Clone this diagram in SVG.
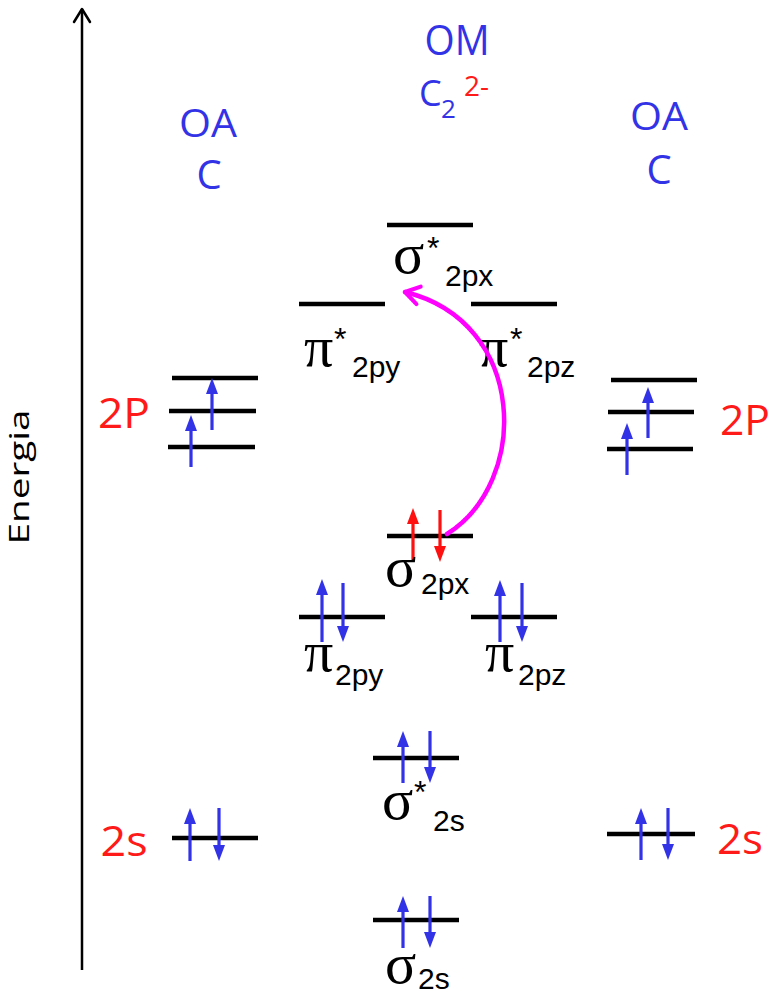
<svg xmlns="http://www.w3.org/2000/svg" width="774" height="998" viewBox="0 0 774 998">
<style>
.lvl{stroke:#000;stroke-width:4.5;fill:none}
.ab{stroke:#3232e6;stroke-width:3.2;fill:none}
.ar{stroke:#ff1010;stroke-width:3.2;fill:none}
.hb{font-family:"Open Sans",sans-serif;fill:#3232e6}
.hr{font-family:"Open Sans",sans-serif;fill:#ff1a1a}
.gr{font-family:"Liberation Serif",serif;font-size:58px;fill:#000}
.sb{font-family:"Liberation Sans",sans-serif;font-size:30px;fill:#000}
.st{font-family:"Liberation Sans",sans-serif;font-size:32px;fill:#000}
</style>
<defs>
<marker id="hb" viewBox="0 0 16 12" refX="4" refY="6" markerWidth="16" markerHeight="12" markerUnits="userSpaceOnUse" orient="auto"><path d="M0,0 L16,6 L0,12 z" fill="#3232e6"/></marker>
<marker id="hr" viewBox="0 0 16 12" refX="4" refY="6" markerWidth="16" markerHeight="12" markerUnits="userSpaceOnUse" orient="auto"><path d="M0,0 L16,6 L0,12 z" fill="#ff1010"/></marker>
<marker id="hm" viewBox="0 0 24 24" refX="20" refY="12" markerWidth="24" markerHeight="24" markerUnits="userSpaceOnUse" orient="auto"><path d="M6,3 L20,12 L6,21" fill="none" stroke="#ff00ff" stroke-width="4" stroke-linecap="round" stroke-linejoin="round"/></marker>
</defs>
<rect width="774" height="998" fill="#fff"/>

<g id="axis">
<line x1="82" y1="970" x2="82" y2="9" stroke="#000" stroke-width="2.5"/>
<path d="M74,22 L82,9 L90,22" fill="none" stroke="#000" stroke-width="2.5" stroke-linecap="round" stroke-linejoin="round"/>
<text transform="translate(29,477) rotate(-90)" text-anchor="middle" font-family="Open Sans, sans-serif" font-size="27" fill="#000" textLength="135" lengthAdjust="spacingAndGlyphs">Energia</text>
</g>

<g id="titles">
<text class="hb" x="457" y="55" font-size="42" text-anchor="middle" textLength="65" lengthAdjust="spacingAndGlyphs">OM</text>
<text class="hb" x="419" y="106" font-size="36">C</text>
<text class="hb" x="441" y="118" font-size="26">2</text>
<text class="hr" x="464" y="96" font-size="28">2-</text>
<text class="hb" x="208" y="137" font-size="38" text-anchor="middle" textLength="58" lengthAdjust="spacingAndGlyphs">OA</text>
<text class="hb" x="209" y="189" font-size="40" text-anchor="middle">C</text>
<text class="hb" x="659" y="130" font-size="38" text-anchor="middle" textLength="58" lengthAdjust="spacingAndGlyphs">OA</text>
<text class="hb" x="659" y="184" font-size="40" text-anchor="middle">C</text>
</g>

<g id="aoL2p">
<line class="lvl" x1="172" y1="378" x2="258" y2="378"/>
<line class="lvl" x1="169" y1="411" x2="256" y2="411"/>
<line class="lvl" x1="168" y1="447" x2="255" y2="447"/>
<line class="ab" x1="212" y1="430" x2="212" y2="390" marker-end="url(#hb)"/>
<line class="ab" x1="191" y1="467" x2="191" y2="427" marker-end="url(#hb)"/>
<text class="hr" x="124" y="428" font-size="42" text-anchor="middle" textLength="52" lengthAdjust="spacingAndGlyphs">2P</text>
</g>

<g id="aoR2p">
<line class="lvl" x1="611" y1="380" x2="697" y2="380"/>
<line class="lvl" x1="608" y1="412" x2="694" y2="412"/>
<line class="lvl" x1="607" y1="449" x2="693" y2="449"/>
<line class="ab" x1="648" y1="438" x2="648" y2="399" marker-end="url(#hb)"/>
<line class="ab" x1="627" y1="475" x2="627" y2="435" marker-end="url(#hb)"/>
<text class="hr" x="745" y="435" font-size="42" text-anchor="middle" textLength="50" lengthAdjust="spacingAndGlyphs">2P</text>
</g>

<g id="aoL2s">
<line class="lvl" x1="172" y1="838" x2="258" y2="838"/>
<line class="ab" x1="190" y1="861" x2="190" y2="820" marker-end="url(#hb)"/>
<line class="ab" x1="219" y1="808" x2="219" y2="849" marker-end="url(#hb)"/>
<text class="hr" x="124" y="856" font-size="42" text-anchor="middle" textLength="47" lengthAdjust="spacingAndGlyphs">2s</text>
</g>

<g id="aoR2s">
<line class="lvl" x1="607" y1="834" x2="695" y2="834"/>
<line class="ab" x1="641" y1="860" x2="641" y2="820" marker-end="url(#hb)"/>
<line class="ab" x1="668" y1="808" x2="668" y2="848" marker-end="url(#hb)"/>
<text class="hr" x="740" y="854" font-size="42" text-anchor="middle" textLength="46" lengthAdjust="spacingAndGlyphs">2s</text>
</g>

<g id="sigmaStar2px">
<line class="lvl" x1="387" y1="225" x2="473" y2="225"/>
<text class="gr" x="393" y="273">σ</text>
<text class="st" x="427" y="259">*</text>
<text class="sb" x="445" y="286">2px</text>
</g>

<g id="piStar2py">
<line class="lvl" x1="299" y1="304" x2="385" y2="304"/>
<text class="gr" x="304" y="366">π</text>
<text class="st" x="334" y="350">*</text>
<text class="sb" x="352" y="377">2py</text>
</g>

<g id="piStar2pz">
<line class="lvl" x1="471" y1="304" x2="557" y2="304"/>
<text class="gr" x="479" y="366">π</text>
<text class="st" x="510" y="350">*</text>
<text class="sb" x="527" y="377">2pz</text>
</g>

<g id="sigma2px">
<line class="lvl" x1="387" y1="536" x2="473" y2="536"/>
<line class="ar" x1="413" y1="560" x2="413" y2="520" marker-end="url(#hr)"/>
<line class="ar" x1="440" y1="510" x2="440" y2="550" marker-end="url(#hr)"/>
<text class="gr" x="385" y="586">σ</text>
<text class="sb" x="421" y="594">2px</text>
</g>

<g id="pi2py">
<line class="lvl" x1="299" y1="617" x2="385" y2="617"/>
<line class="ab" x1="322" y1="642" x2="322" y2="591" marker-end="url(#hb)"/>
<line class="ab" x1="343" y1="583" x2="343" y2="630" marker-end="url(#hb)"/>
<text class="gr" x="304" y="671">π</text>
<text class="sb" x="335" y="685">2py</text>
</g>

<g id="pi2pz">
<line class="lvl" x1="471" y1="617" x2="557" y2="617"/>
<line class="ab" x1="500" y1="642" x2="500" y2="592" marker-end="url(#hb)"/>
<line class="ab" x1="522" y1="583" x2="522" y2="630" marker-end="url(#hb)"/>
<text class="gr" x="485" y="671">π</text>
<text class="sb" x="518" y="685">2pz</text>
</g>

<g id="sigmaStar2s">
<line class="lvl" x1="373" y1="758" x2="459" y2="758"/>
<line class="ab" x1="403" y1="783" x2="403" y2="743" marker-end="url(#hb)"/>
<line class="ab" x1="430" y1="731" x2="430" y2="771" marker-end="url(#hb)"/>
<text class="gr" x="382" y="819">σ</text>
<text class="st" x="414" y="803">*</text>
<text class="sb" x="433" y="831">2s</text>
</g>

<g id="sigma2s">
<line class="lvl" x1="373" y1="920" x2="459" y2="920"/>
<line class="ab" x1="403" y1="948" x2="403" y2="908" marker-end="url(#hb)"/>
<line class="ab" x1="430" y1="896" x2="430" y2="936" marker-end="url(#hb)"/>
<text class="gr" x="385" y="983">σ</text>
<text class="sb" x="418" y="989" font-size="28">2s</text>
</g>

<g id="connectors">
<path d="M447,534 C530,482 528,322 405,292" fill="none" stroke="#ff00ff" stroke-width="4.5" stroke-linecap="round" marker-end="url(#hm)"/>
</g>
</svg>
